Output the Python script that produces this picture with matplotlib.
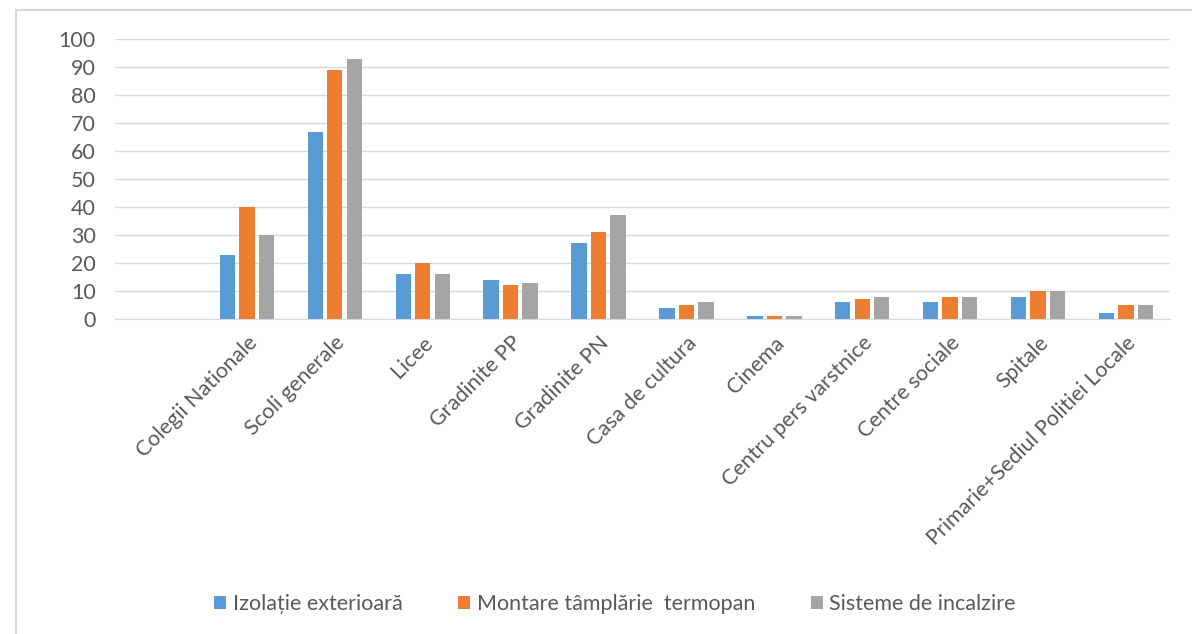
import numpy as np
import matplotlib.pyplot as plt
from matplotlib.lines import Line2D

plt.rcParams['font.family'] = ['Lato', 'DejaVu Sans']

categories = ['', 'Colegii Nationale', 'Scoli generale', 'Licee', 'Gradinite PP', 'Gradinite PN',
              'Casa de cultura', 'Cinema', 'Centru pers varstnice', 'Centre sociale', 'Spitale',
              'Primarie+Sediul Politiei Locale']
izolatie = [np.nan, 23, 67, 16, 14, 27, 4, 1, 6, 6, 8, 2]
tamplarie = [np.nan, 40, 89, 20, 12, 31, 5, 1, 7, 8, 10, 5]
incalzire = [np.nan, 30, 93, 16, 13, 37, 6, 1, 8, 8, 10, 5]
series_names = ['Izolație exterioară', 'Montare tâmplărie  termopan', 'Sisteme de incalzire']
colors = ['#5B9BD5', '#ED7D31', '#A5A5A5']

txt = '#595959'
fig = plt.figure(figsize=(11.92, 6.34), dpi=100)
ax = fig.add_axes([0.0965, 0.497, 0.885, 0.441])

x = np.arange(len(categories))
w = 0.175
step = 0.222
for i, (vals, name, c) in enumerate(zip([izolatie, tamplarie, incalzire], series_names, colors)):
    ax.bar(x + (i - 1) * step, vals, width=w, color=c, label=name, zorder=3)

ax.set_xlim(-0.5, len(categories) - 0.5)
ax.set_ylim(0, 100)
ax.set_yticks(range(0, 101, 10))
ax.yaxis.grid(True, color='#D9D9D9', linewidth=1, zorder=0)
for s in ['top', 'right', 'left']:
    ax.spines[s].set_visible(False)
ax.spines['bottom'].set_color('#D9D9D9')
ax.tick_params(axis='both', length=0, colors=txt, labelsize=15.5)
ax.tick_params(axis='y', pad=14)
ax.set_xticks(x)
ax.set_xticklabels(categories, rotation=45, ha='right', rotation_mode='anchor')
ax.tick_params(axis='x', pad=10)

leg = fig.legend(loc='center', bbox_to_anchor=(0.516, 0.047), ncol=3, frameon=False,
                 handlelength=0.55, handleheight=0.55, handletextpad=0.3, columnspacing=2.6,
                 fontsize=15.5)
for t in leg.get_texts():
    t.set_color(txt)

# chart frame (top and left edges visible)
fig.add_artist(Line2D([16 / 1192, 1.0], [1 - 10 / 634] * 2, color='#D0D0D0', lw=1.2))
fig.add_artist(Line2D([16 / 1192] * 2, [0.0, 1 - 10 / 634], color='#D0D0D0', lw=1.2))

fig.savefig('out.png', dpi=100)
